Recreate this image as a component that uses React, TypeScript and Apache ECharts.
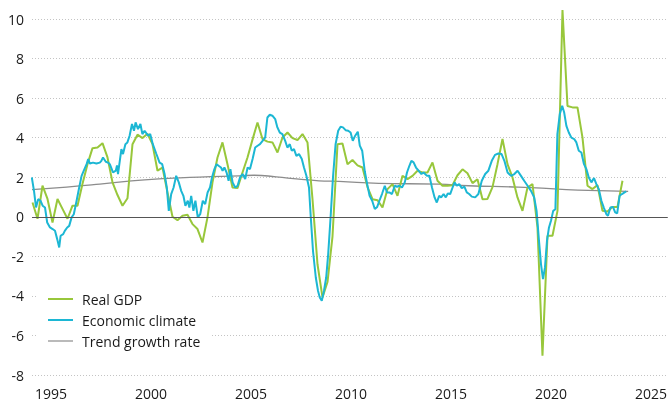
import React, { useEffect, useRef } from "react";
import * as echarts from "echarts";

// x-axis tick labels (years)
const yearTicks = [1995, 2000, 2005, 2010, 2015, 2020, 2025];

// Real GDP, y/y %, quarterly from Q4 1994 to Q2 2024
const gdpFirstQuarter = 1994.75; // start of Q4 1994
const gdpQuarterly = [
  0.72, -0.1, 1.57, 0.9,
  -0.29, 0.9, 0.4, -0.1,
  0.56, 0.56, 1.67, 2.66,
  3.47, 3.5, 3.72, 3.0,
  1.74, 1.1, 0.56, 0.94,
  3.67, 4.15, 3.98, 4.2,
  3.67, 2.33, 2.49, 1.23,
  0.0, -0.17, 0.05, 0.1,
  -0.37, -0.62, -1.3, -0.03,
  1.74, 3.0, 3.76, 2.66,
  1.48, 1.45, 2.24, 3.0,
  3.9, 4.77, 3.93, 3.8,
  3.76, 3.25, 4.01, 4.26,
  3.98, 3.88, 4.18, 3.76,
  0.9, -2.4, -4.08, -3.3,
  -1.0, 3.67, 3.71, 2.66,
  2.87, 2.6, 2.49, 1.5,
  0.89, 0.84, 0.47, 1.4,
  1.65, 1.06, 2.07, 1.9,
  2.07, 2.33, 2.24, 2.24,
  2.75, 1.82, 1.57, 1.57,
  1.6, 2.1, 2.4, 2.2,
  1.7, 1.9, 0.89, 0.9,
  1.5, 2.66, 3.93, 2.66,
  1.99, 0.98, 0.3, 1.48,
  1.65, -0.54, -7.03, -0.96,
  -0.96, 0.3, 10.45, 5.6,
  5.53, 5.53, 4.0, 1.57,
  1.4, 1.6, 0.3, 0.27,
  0.5, 0.5, 1.82,
];

// Economic climate [year, value]
const climate: [number, number][] = [
  [1994.84, 1.99], [1994.95, 1.31], [1995.05, 0.47], [1995.16, 0.89], [1995.28, 0.81],
  [1995.38, 0.56], [1995.5, 0.47], [1995.61, -0.29], [1995.75, -0.54], [1995.88, -0.62],
  [1996.0, -0.71], [1996.11, -1.13], [1996.21, -1.55], [1996.28, -0.96], [1996.41, -0.88],
  [1996.49, -0.71], [1996.61, -0.54], [1996.71, -0.46], [1996.83, -0.03], [1996.94, 0.13],
  [1997.08, 0.81], [1997.21, 1.48], [1997.33, 2.07], [1997.44, 2.33], [1997.58, 2.66],
  [1997.66, 2.92], [1997.74, 2.69], [1997.9, 2.74], [1998.07, 2.69], [1998.24, 2.74],
  [1998.32, 2.83], [1998.4, 3.0], [1998.54, 2.78], [1998.65, 2.74], [1998.74, 2.66],
  [1998.9, 2.24], [1999.04, 2.33], [1999.1, 2.6], [1999.15, 2.16], [1999.32, 3.42],
  [1999.4, 3.17], [1999.52, 3.67], [1999.62, 3.76], [1999.73, 4.1], [1999.85, 4.69],
  [1999.95, 4.35], [2000.03, 4.77], [2000.15, 4.43], [2000.27, 4.69], [2000.37, 4.18],
  [2000.48, 4.35], [2000.65, 4.1], [2000.76, 4.18], [2000.89, 3.67], [2001.06, 3.2],
  [2001.23, 2.74], [2001.36, 2.66], [2001.48, 2.16], [2001.59, 1.48], [2001.69, 0.3],
  [2001.81, 1.15], [2001.93, 1.48], [2002.06, 2.07], [2002.19, 1.74], [2002.31, 1.31],
  [2002.42, 1.06], [2002.52, 0.56], [2002.64, 0.81], [2002.72, 0.47], [2002.81, 1.06],
  [2002.92, 0.3], [2003.02, 0.81], [2003.14, -0.03], [2003.26, 0.13], [2003.39, 0.81],
  [2003.51, 0.64], [2003.63, 1.23], [2003.75, 1.48], [2003.85, 1.99], [2003.97, 2.41],
  [2004.08, 2.66], [2004.18, 2.58], [2004.3, 2.49], [2004.38, 2.33], [2004.47, 2.49],
  [2004.58, 2.24], [2004.68, 1.82], [2004.77, 2.41], [2004.88, 1.74], [2005.01, 1.48],
  [2005.13, 1.57], [2005.25, 1.99], [2005.38, 2.16], [2005.51, 1.91], [2005.63, 2.49],
  [2005.75, 2.41], [2005.88, 2.92], [2006.01, 3.5], [2006.13, 3.59], [2006.25, 3.67],
  [2006.38, 3.84], [2006.51, 4.01], [2006.62, 5.02], [2006.74, 5.16], [2006.87, 5.11],
  [2007.01, 4.94], [2007.12, 4.52], [2007.24, 4.26], [2007.37, 4.18], [2007.51, 3.84],
  [2007.62, 3.5], [2007.74, 3.67], [2007.84, 3.34], [2007.95, 3.42], [2008.07, 3.08],
  [2008.2, 3.17], [2008.34, 2.92], [2008.45, 2.49], [2008.57, 2.07], [2008.7, 1.48],
  [2008.79, -0.03], [2008.9, -1.72], [2009.04, -3.07], [2009.15, -3.74], [2009.24, -4.08],
  [2009.34, -4.25], [2009.45, -3.74], [2009.56, -3.07], [2009.66, -1.89], [2009.78, -0.03],
  [2009.9, 1.99], [2010.03, 3.67], [2010.16, 4.35], [2010.28, 4.55], [2010.4, 4.52],
  [2010.53, 4.38], [2010.66, 4.35], [2010.78, 4.26], [2010.89, 3.84], [2011.01, 4.1],
  [2011.14, 4.3], [2011.24, 3.6], [2011.36, 3.34], [2011.49, 2.3], [2011.61, 1.65],
  [2011.73, 1.06], [2011.86, 0.81], [2011.99, 0.39], [2012.11, 0.5], [2012.22, 0.81],
  [2012.35, 1.15], [2012.49, 1.57], [2012.6, 1.23], [2012.72, 1.23], [2012.85, 1.15],
  [2012.99, 1.57], [2013.1, 1.52], [2013.22, 1.57], [2013.35, 1.48], [2013.49, 1.74],
  [2013.6, 2.24], [2013.72, 2.58], [2013.82, 2.83], [2013.93, 2.75], [2014.05, 2.49],
  [2014.18, 2.33], [2014.32, 2.16], [2014.43, 2.24], [2014.6, 2.07], [2014.72, 2.07],
  [2014.85, 1.48], [2014.98, 0.98], [2015.09, 0.72], [2015.21, 1.06], [2015.31, 0.98],
  [2015.43, 1.15], [2015.54, 0.98], [2015.64, 1.18], [2015.76, 1.15], [2015.88, 1.48],
  [2015.98, 1.74], [2016.09, 1.57], [2016.21, 1.65], [2016.34, 1.45], [2016.47, 1.52],
  [2016.59, 1.23], [2016.71, 1.15], [2016.84, 1.02], [2017.01, 0.98], [2017.17, 1.15],
  [2017.34, 1.82], [2017.51, 2.16], [2017.67, 2.33], [2017.84, 2.83], [2018.0, 3.13],
  [2018.17, 3.2], [2018.33, 3.17], [2018.47, 2.83], [2018.63, 2.24], [2018.8, 2.07],
  [2018.97, 2.16], [2019.13, 2.33], [2019.3, 2.07], [2019.46, 1.82], [2019.63, 1.57],
  [2019.8, 1.31], [2019.96, 0.98], [2020.08, 0.3], [2020.2, -1.21], [2020.3, -2.39],
  [2020.4, -3.15], [2020.5, -2.56], [2020.6, -1.21], [2020.7, -0.54], [2020.8, -0.2],
  [2020.91, 0.3], [2021.02, 0.38], [2021.12, 4.18], [2021.24, 5.19], [2021.36, 5.61],
  [2021.46, 5.27], [2021.57, 4.6], [2021.69, 4.26], [2021.82, 4.0], [2021.96, 3.93],
  [2022.07, 3.76], [2022.19, 3.34], [2022.32, 3.25], [2022.45, 2.66], [2022.57, 2.41],
  [2022.69, 1.99], [2022.82, 1.74], [2022.95, 1.96], [2023.07, 1.65], [2023.19, 1.4],
  [2023.32, 0.81], [2023.45, 0.44], [2023.57, 0.13], [2023.65, 0.05], [2023.77, 0.47],
  [2023.9, 0.5], [2024.01, 0.22], [2024.11, 0.17], [2024.23, 1.06], [2024.35, 1.15],
  [2024.48, 1.23], [2024.56, 1.28],
];

// Trend growth rate [year, value]
const trend: [number, number][] = [
  [1994.85, 1.37], [1996.58, 1.5], [1998.24, 1.65], [2000.48, 1.87], [2003.22, 2.0],
  [2005.21, 2.07], [2005.96, 2.1], [2007.06, 2.02], [2008.2, 1.9], [2009.2, 1.82],
  [2010.2, 1.79], [2012.19, 1.69], [2015.18, 1.65], [2016.67, 1.57], [2019.17, 1.5],
  [2021.16, 1.4], [2022.15, 1.35], [2024.66, 1.28],
];

const GREEN = "#98c73b";
const BLUE = "#1cb7d4";
const GREY = "#8c8c8c";
const FONT = "'Open Sans', sans-serif";

const ICON_THICK = "path://M0,0h25v2h-25z";
const ICON_THIN = "path://M0,0h25v1.2h-25z";

export default function App() {
  const ref = useRef<HTMLDivElement>(null);
  useEffect(() => {
    const chart = echarts.init(ref.current!, null, { renderer: "svg" });
    const gdpData = gdpQuarterly.map((v, i) => [gdpFirstQuarter + 0.125 + i * 0.25, v]);
    chart.setOption({
      animation: false,
      textStyle: { fontFamily: FONT },
      grid: { left: 32, right: 0, top: 19, bottom: 26, containLabel: false },
      legend: {
        orient: "vertical",
        left: 37,
        top: 284,
        padding: [8, 10, 8, 11],
        backgroundColor: "#ffffff",
        itemWidth: 25,
        itemHeight: 14,
        itemGap: 7,
        textStyle: { fontSize: 14, color: "#1a1a1a", fontFamily: FONT, padding: [0, 0, 0, 4] },
        data: [
          { name: "Real GDP", icon: ICON_THICK, itemStyle: { color: GREEN } },
          { name: "Economic climate", icon: ICON_THICK, itemStyle: { color: BLUE } },
          { name: "Trend growth rate", icon: ICON_THIN, itemStyle: { color: GREY } },
        ],
      },
      xAxis: {
        type: "value",
        min: 1994.85,
        max: 2026.64,
        axisLine: { show: false },
        axisTick: { show: false },
        splitLine: { show: false },
        axisLabel: {
          customValues: yearTicks,
          align: "left",
          margin: 11,
          fontSize: 14,
          color: "#1a1a1a",
          fontFamily: FONT,
          formatter: (v: number) => String(v),
        },
      },
      yAxis: {
        type: "value",
        min: -8,
        max: 10,
        interval: 2,
        axisLine: { show: false },
        axisTick: { show: false },
        axisLabel: { margin: 8, fontSize: 14, color: "#1a1a1a", fontFamily: FONT },
        splitLine: { show: true, lineStyle: { color: "#c4c4c4", width: 1, type: [1, 2] } },
      },
      series: [
        {
          name: "Trend growth rate",
          type: "line",
          data: trend,
          symbol: "none",
          smooth: true,
          clip: false,
          z: 2,
          lineStyle: { color: GREY, width: 1.3 },
          itemStyle: { color: GREY },
          markLine: {
            silent: true,
            symbol: ["none", "none"],
            label: { show: false },
            lineStyle: { color: "#555555", width: 1, type: "solid" },
            data: [{ yAxis: 0 }],
          },
        },
        {
          name: "Real GDP",
          type: "line",
          data: gdpData,
          symbol: "none",
          clip: false,
          z: 3,
          lineStyle: { color: GREEN, width: 2 },
          itemStyle: { color: GREEN },
        },
        {
          name: "Economic climate",
          type: "line",
          data: climate,
          symbol: "none",
          clip: false,
          z: 4,
          lineStyle: { color: BLUE, width: 2 },
          itemStyle: { color: BLUE },
        },
      ],
    });
    return () => chart.dispose();
  }, []);
  return <div ref={ref} style={{ position: "fixed", left: 0, top: 0, width: 670, height: 401 }} />;
}
